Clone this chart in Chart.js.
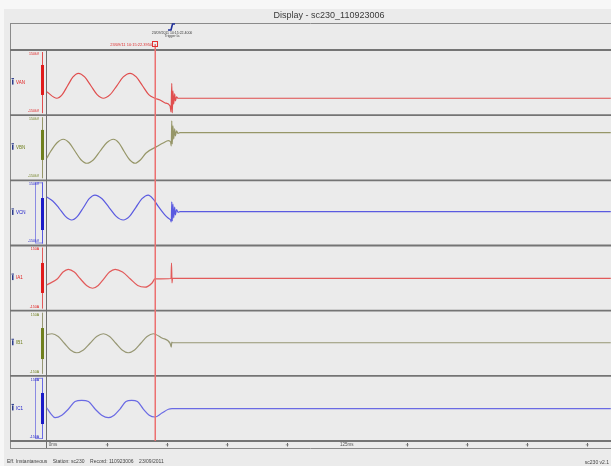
<!DOCTYPE html>
<html>
<head>
<meta charset="utf-8">
<title>Display - sc230_110923006</title>
<script src="https://cdn.jsdelivr.net/npm/chart.js@4.4.0/dist/chart.umd.min.js"></script>
<style>
  html, body { margin: 0; padding: 0; background: #f7f7f7; }
  #scope { display: block; }
</style>
</head>
<body>
<canvas id="scope" width="611" height="466"></canvas>
<script>
const chartTitle = 'Display - sc230_110923006';
const channelNames = ['VAN', 'VBN', 'VCN', 'IA1', 'IB1', 'IC1'];
const rangeTop = ['150kV', '150kV', '150kV', '150A', '150A', '150A'];
const rangeBottom = ['-150kV', '-150kV', '-150kV', '-150A', '-150A', '-150A'];
const barHigh = [81, 82, 68.5, 69.5, 70, 71];
const barLow = [-57, -56, -78.7, -68.5, -72.7, -71.8];

const ch1T = [0, 4.2, 6.45, 8.7, 10.95, 13.2, 15.8, 18.4, 21.0, 23.6, 26.4, 29.2, 31.9, 34.7, 37.3, 39.9, 42.5, 45.1,
  47.2, 49.3, 51.4, 51.8, 52.1, 52.3, 52.6, 52.9, 53.3, 53.6, 54.1, 54.7, 235];
const ch1V = [-41.9, -72.2, -55.4, -14.7, 26.0, 42.8, 26.0, -14.7, -55.4, -72.2, -55.4, -14.7, 26.0, 42.8, 26.0, -14.7, -55.4, -72.2,
  -80, -93.8, -107.6, -135.2, -3.2, -139.8, -38.6, -98.9, -52.4, -84.6, -66.2, -72.2, -72.2];

const ch2T = [0, 1.7, 4.3, 6.9, 9.35, 11.8, 14.25, 16.7, 19.5, 22.2, 25.0, 27.8, 30.05, 32.2, 34.55, 36.8, 39.1, 41.4, 45.8, 48.5, 50.7,
  51.6, 51.9, 52.1, 52.3, 52.6, 52.9, 53.3, 53.6, 54.1, 54.7, 55.5, 235];
const ch2V = [-48.3, -16.1, 22.9, 39.1, 22.9, -16.1, -55.1, -71.3, -55.1, -16.1, 22.9, 39.1, 22.9, -16.1, -55.1, -71.3, -55.1, -23.9, 5.1, 22.1, 32.7,
  26.7, 8.3, 123.3, 17.5, 100.3, 40.5, 86.5, 54.3, 77.3, 65.8, 69.5, 69.5];

const ch3T = [0, 2.5, 5.1, 7.8, 10.4, 12.8, 15.3, 17.7, 20.1, 23.05, 26.0, 28.95, 31.9, 34.5, 37.1, 39.7, 42.3, 44.5, 46.4, 49.3, 50.7,
  51.6, 51.9, 52.1, 52.3, 52.6, 52.9, 53.3, 53.6, 54.1, 54.7, 55.5, 235];
const ch3V = [73.1, 55.0, 22.5, -15.9, -32.7, -15.9, 24.8, 65.5, 82.3, 65.5, 24.8, -15.9, -32.7, -15.9, 24.8, 65.5, 82.3, 62.0, 31.7, -9.7, -24.8,
  -32.7, -41.9, 51.5, -37.3, 40.9, -23.5, 27.1, -9.7, 15.6, 2.8, 5.5, 5.5];

const ch4T = [0, 4.5, 6.8, 9.0, 11.5, 14.0, 16.6, 19.1, 21.45, 23.8, 26.15, 28.5, 31.6, 34.75, 37.9, 41.0, 43.9, 45.1,
  51.8, 52.0, 52.2, 52.4, 235];
const ch4V = [-31.7, -3.2, 27.7, 40.5, 27.7, -3.2, -34.1, -46.9, -34.1, -3.2, 27.7, 40.5, 27.7, -3.2, -34.1, -42.0, -22.5, -4.1,
  -1.8, 69.5, -22.5, -1.8, -1.8];

const ch5T = [0, 2.2, 4.8, 7.35, 9.9, 12.5, 15.3, 18.05, 20.8, 23.6, 26.2, 28.8, 31.4, 34.0, 36.6, 39.2, 41.8, 44.4, 48.0, 51.4,
  51.9, 52.1, 52.4, 235];
const ch5V = [40.0, 43.7, 30.9, 0, -30.9, -43.7, -30.9, 0, 30.9, 43.7, 30.9, 0, -30.9, -43.7, -30.9, 0, 30.9, 43.7, 23.9, -0.5,
  -17.5, 5.5, 2.3, 2.3];

const ch6T = [0, 1.75, 3.5, 6.3, 9.05, 11.8, 14.6, 17.4, 20.15, 22.9, 25.7, 28.1, 30.55, 33.0, 35.4, 37.8, 40.25, 42.7, 45.1, 48.0, 50.7, 52.2, 235];
const ch6V = [3.2, -25.0, -42.8, -31.0, -2.8, 31.5, 37.3, 31.5, -2.8, -31.0, -42.8, -31.0, -2.8, 31.5, 37.3, 31.5, -2.8, -31.0, -39.6, -21.2, -4.1, -1.4, -1.4];

const axisTicks = [0, 25, 50, 75, 100, 125, 150, 175, 200, 225];
const axisLabels = ['0ms', '', '', '', '', '125ms', '', '', '', ''];
const cursorT = 45.1;
const triggerT = 52.2;
const cursorLabel = '23/09/11 10:15:22.3950';
const triggerText = ['23/09/2011 10:15:22.4000', 'Trigger Ia'];
const footerLeft = 'Eff. Instantaneous    Station: sc230    Record: 110923006    23/09/2011';
const footerRight = 'sc230 v2.1';

// --- estilos ---
const lineColors = ['#e04e4e', '#969668', '#5a5ae0', '#e25a5a', '#979774', '#6a6ae4'];
const barColors = ['#e01a1a', '#6f7f1e', '#1a1ac8', '#e01a1a', '#6f7f1e', '#1a1ac8'];
const sepColor = '#747474';

const series = [[ch1T, ch1V], [ch2T, ch2V], [ch3T, ch3V], [ch4T, ch4V], [ch5T, ch5V], [ch6T, ch6V]];

function hline(ctx, x1, x2, y, color, w) {
  ctx.strokeStyle = color; ctx.lineWidth = w;
  ctx.beginPath(); ctx.moveTo(x1, y); ctx.lineTo(x2, y); ctx.stroke();
}
function vline(ctx, x, y1, y2, color, w) {
  ctx.strokeStyle = color; ctx.lineWidth = w;
  ctx.beginPath(); ctx.moveTo(x, y1); ctx.lineTo(x, y2); ctx.stroke();
}

// === decoracion del visor ===
const scopeDecor = {
  id: 'scopeDecor',
  beforeDraw(chart) {
    const { ctx, width, height } = chart;
    ctx.save();
    ctx.fillStyle = '#f7f7f7';
    ctx.fillRect(0, 0, width, height);
    ctx.fillStyle = '#ebebeb';
    ctx.fillRect(4, 9, width - 4, height - 9);
    ctx.fillStyle = '#3a3a3a';
    ctx.font = '9px "Liberation Sans", Arial, sans-serif';
    ctx.textAlign = 'center';
    ctx.textBaseline = 'middle';
    ctx.fillText(chartTitle, 329, 15.5);
    ctx.restore();
  },
  beforeDatasetsDraw(chart) {
    const { ctx, width, chartArea: a, scales } = chart;
    const xs = scales.x;
    ctx.save();

    // marco
    hline(ctx, 10, width, 23.5, '#8a8a8a', 1);
    vline(ctx, 10.5, 23, 448, '#8a8a8a', 1);

    // paneles
    for (let i = 0; i < 6; i++) {
      const s = scales['y' + (i + 1)];
      const top = s.top, bottom = s.bottom, mid = (top + bottom) / 2;
      hline(ctx, 10, width, top, sepColor, 1.8);

      // etiqueta del canal
      ctx.fillStyle = '#2b3b8c';
      ctx.fillRect(12, mid - 3, 1.5, 5);
      ctx.fillRect(11.5, mid - 4.5, 2.5, 1);
      ctx.fillStyle = barColors[i];
      ctx.font = '4.5px "Liberation Sans", Arial, sans-serif';
      ctx.textAlign = 'left';
      ctx.textBaseline = 'middle';
      ctx.fillText(channelNames[i], 16, mid);

      // rango
      ctx.font = '3.5px "Liberation Sans", Arial, sans-serif';
      ctx.textAlign = 'right';
      ctx.fillText(rangeTop[i], 39, top + 4);
      ctx.fillText(rangeBottom[i], 39, bottom - 4);

      if (i === 2 || i === 5) {
        ctx.strokeStyle = 'rgba(60,60,220,0.55)';
        ctx.lineWidth = 1;
        ctx.strokeRect(35.5, top + 2.5, 7, bottom - top - 5);
      }
      vline(ctx, 42.5, top + 2, bottom - 2, lineColors[i], 1);
      const yHi = s.getPixelForValue(barHigh[i]);
      const yLo = s.getPixelForValue(barLow[i]);
      ctx.fillStyle = barColors[i];
      ctx.fillRect(41, yHi, 3, yLo - yHi);
    }
    hline(ctx, 10, width, a.bottom, sepColor, 1.8);
    hline(ctx, 10, width, 448.5, '#8a8a8a', 1);
    vline(ctx, a.left + 0.5, a.top, 448, '#6e6e6e', 1);

    // eje de tiempo
    ctx.font = '4.5px "Liberation Sans", Arial, sans-serif';
    ctx.textBaseline = 'middle';
    axisTicks.forEach((t, k) => {
      const px = xs.getPixelForValue(t);
      if (axisLabels[k]) {
        ctx.fillStyle = '#555';
        ctx.textAlign = k === 0 ? 'left' : 'center';
        ctx.fillText(axisLabels[k], k === 0 ? px + 2 : px, 444.8);
      } else {
        vline(ctx, Math.round(px) + 0.5, 443, 446.5, '#666', 1);
        hline(ctx, px - 1, px + 2, 444.8, '#888', 0.8);
      }
    });

    // disparo
    const tx = xs.getPixelForValue(triggerT);
    ctx.strokeStyle = '#1f2f9a';
    ctx.lineWidth = 1.6;
    ctx.beginPath();
    ctx.moveTo(tx - 4, 30); ctx.lineTo(tx - 1, 30);
    ctx.lineTo(tx + 0.5, 24); ctx.lineTo(tx + 3, 24);
    ctx.stroke();
    ctx.fillStyle = '#3a3a3a';
    ctx.font = '3.5px "Liberation Sans", Arial, sans-serif';
    ctx.textAlign = 'center';
    ctx.fillText(triggerText[0], tx, 33);
    ctx.fillText(triggerText[1], tx, 36.5);

    // pie
    ctx.fillStyle = '#444';
    ctx.font = '5px "Liberation Sans", Arial, sans-serif';
    ctx.textAlign = 'left';
    ctx.fillText(footerLeft, 7, 461.5);
    ctx.textAlign = 'right';
    ctx.fillText(footerRight, 609, 462.5);
    ctx.restore();
  },
  afterDatasetsDraw(chart) {
    const { ctx, chartArea: a, scales } = chart;
    // cursor rojo (un poco mas ancho para que no pierda el color)
    const cx = Math.round(scales.x.getPixelForValue(cursorT)) + 0.25;
    ctx.save();
    vline(ctx, cx, 44, a.bottom, '#ec7070', 1.5);
    ctx.fillStyle = '#e03030';
    ctx.font = '4px "Liberation Sans", Arial, sans-serif';
    ctx.textAlign = 'right';
    ctx.textBaseline = 'middle';
    ctx.fillText(cursorLabel, cx - 3, 44.5);
    ctx.strokeStyle = '#e03030';
    ctx.lineWidth = 1;
    ctx.strokeRect(Math.round(cx) - 2.5, 41.5, 5, 5);
    ctx.restore();
  }
};

// los ejes apilados se colocan en orden inverso: el ultimo definido queda arriba
const scales = {
  x: { type: 'linear', min: -0.3, max: 235.1, display: false }
};
for (let i = 5; i >= 0; i--) {
  scales['y' + (i + 1)] = {
    type: 'linear', position: 'left', stack: 'panels', stackWeight: 1,
    min: -150, max: 150, display: false
  };
}

new Chart(document.getElementById('scope'), {
  type: 'line',
  data: {
    datasets: series.map((s, i) => ({
      label: channelNames[i],
      data: s[0].map((t, k) => ({ x: t, y: s[1][k] })),
      yAxisID: 'y' + (i + 1),
      borderColor: lineColors[i],
      borderWidth: 1.2,
      pointRadius: 0,
      cubicInterpolationMode: 'monotone',
      fill: false
    }))
  },
  options: {
    responsive: false,
    animation: false,
    devicePixelRatio: 1,
    layout: { padding: { left: 46, right: 0, top: 50, bottom: 25 } },
    scales: scales,
    plugins: { legend: { display: false }, tooltip: { enabled: false } }
  },
  plugins: [scopeDecor]
});
</script>
</body>
</html>
